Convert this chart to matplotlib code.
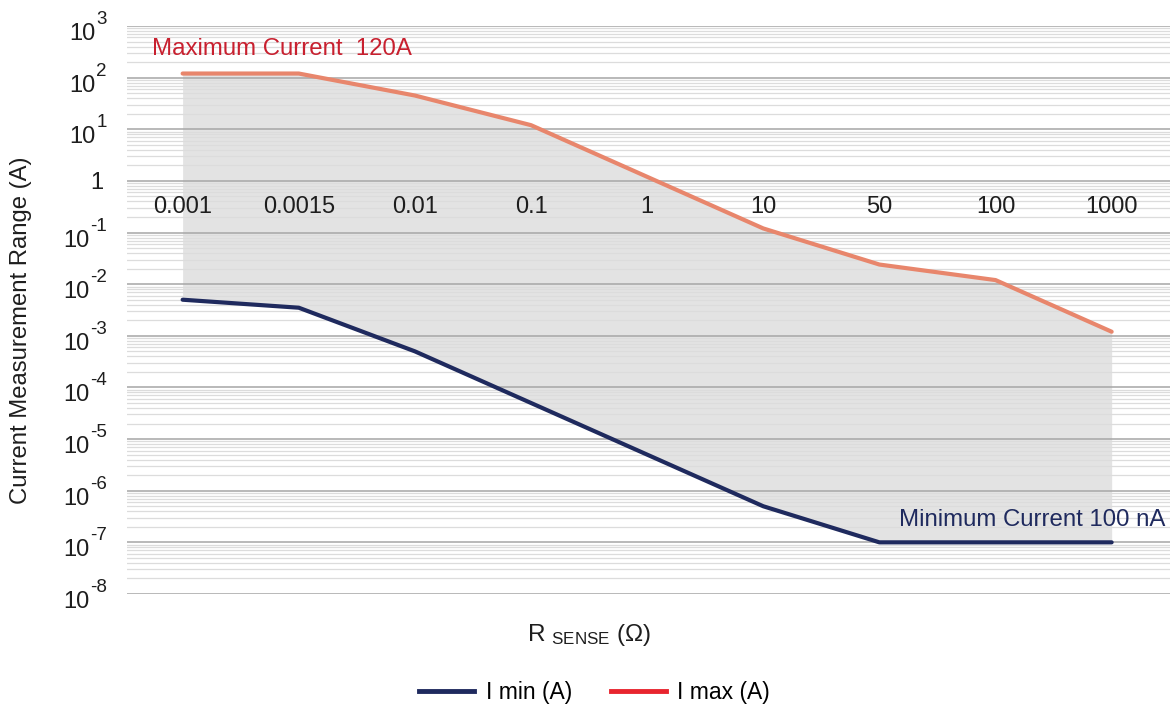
import matplotlib
matplotlib.use("Agg")
import matplotlib.pyplot as plt
from matplotlib.lines import Line2D
from matplotlib.ticker import FixedLocator, LogLocator, NullFormatter
import matplotlib.transforms as mtransforms
import numpy as np

plt.rcParams['font.family'] = ['Liberation Sans', 'DejaVu Sans']
plt.rcParams['mathtext.fontset'] = 'custom'
plt.rcParams['mathtext.rm'] = 'Liberation Sans'
plt.rcParams['mathtext.it'] = 'Liberation Sans'

# Data
r_sense = ["0.001", "0.0015", "0.01", "0.1", "1", "10", "50", "100", "1000"]
i_max = [120, 120, 45, 12, 1.2, 0.12, 0.024, 0.012, 0.0012]
i_min = [0.005, 0.0035, 5e-4, 5e-5, 5e-6, 5e-7, 1e-7, 1e-7, 1e-7]
y_exponents = list(range(-8, 4))

max_color = '#E8866C'
max_legend_color = '#E8242E'
min_color = '#1F2A5E'
text_red = '#C8202F'
text_dark = '#1e1e1e'

DPI = 100
fig = plt.figure(figsize=(11.75, 7.1), dpi=DPI)
ax = fig.add_axes([0.108, 0.1634, 0.8875, 0.8])

x = np.arange(len(r_sense))
ax.fill_between(x, i_min, i_max, color='#e3e3e3', lw=0, zorder=1)
ax.plot(x, i_max, color=max_color, lw=3.0, zorder=3, solid_capstyle='round')
ax.plot(x, i_min, color=min_color, lw=3.0, zorder=3, solid_capstyle='round')

ax.set_yscale('log')
ax.set_ylim(1e-8, 1e3)
ax.set_xlim(-0.48, 8.5)

major = [10.0 ** e for e in y_exponents]
ax.yaxis.set_major_locator(FixedLocator(major))
ax.yaxis.set_major_formatter(NullFormatter())
ax.yaxis.set_minor_locator(LogLocator(base=10, subs=np.arange(2, 10), numticks=100))
ax.yaxis.set_minor_formatter(NullFormatter())
ax.set_axisbelow(False)
ax.grid(which='major', axis='y', color='#a6a6a6', lw=1.1, zorder=2)
ax.grid(which='minor', axis='y', color='#dcdcdc', lw=0.9, zorder=2)
ax.tick_params(axis='y', which='both', length=0)
ax.set_xticks([])
for s in ax.spines.values():
    s.set_visible(False)

# Custom y tick labels: "10" with a superscript exponent (hyphen minus)
ytrans = ax.get_yaxis_transform()
ax_w_px = 0.8875 * 11.75 * DPI
label_right = (107 - 127) / ax_w_px
for e, v in zip(y_exponents, major):
    if e == 0:
        ax.text((103 - 127) / ax_w_px, v, '1', transform=ytrans, ha='right',
                va='center_baseline', fontsize=17, color=text_dark, clip_on=False)
        continue
    off = mtransforms.ScaledTranslation(0, -2 / DPI, fig.dpi_scale_trans)
    exp_t = ax.text(label_right, v, str(e), transform=ytrans + off, ha='right',
                    va='bottom', fontsize=13.5, color=text_dark, clip_on=False)
    ax.annotate('10', xy=(0, v), xycoords=(exp_t, 'data'), xytext=(-1, 3),
                textcoords='offset pixels', ha='right', va='top', fontsize=17,
                color=text_dark, annotation_clip=False)

for xi, lab in zip(x, r_sense):
    ax.text(xi, 10 ** -0.5, lab, ha='center', va='center', fontsize=17,
            color=text_dark, zorder=4)

ax.text(-0.265, 10 ** 2.55, 'Maximum Current  120A', color=text_red, fontsize=17.3,
        ha='left', va='center', zorder=4)
ax.text(8.465, 10 ** -6.57, 'Minimum Current 100 nA', color=min_color, fontsize=17.3,
        ha='right', va='center', zorder=4)

fig.text(0.018, 0.535, 'Current Measurement Range (A)', rotation=90, ha='center',
         va='center', fontsize=17.2, color=text_dark)
fig.text(0.501, 0.106, r'R $_{\mathregular{SENSE}}$ (Ω)', ha='center', va='center',
         fontsize=17.5, color=text_dark)

handles = [Line2D([], [], color=min_color, lw=3.5),
           Line2D([], [], color=max_legend_color, lw=3.5)]
fig.legend(handles, ['I min (A)', 'I max (A)'], loc='center', bbox_to_anchor=(0.506, 0.024),
           ncol=2, frameon=False, fontsize=16.5, handlelength=2.4, columnspacing=1.7,
           handletextpad=0.5)

fig.savefig('out.png', dpi=DPI)
